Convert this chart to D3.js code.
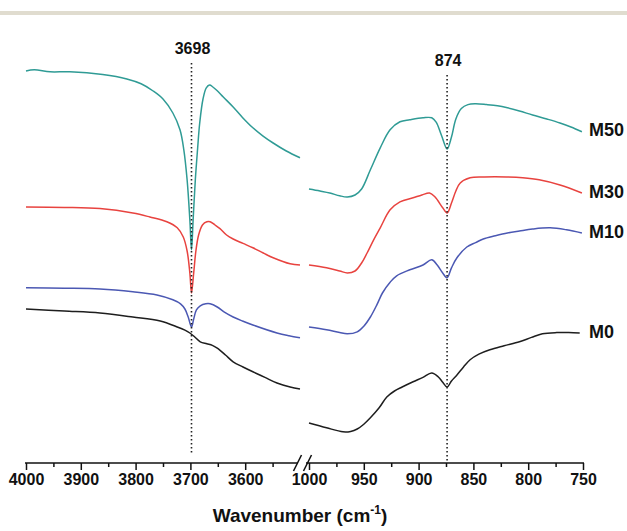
<!DOCTYPE html>
<html>
<head>
<meta charset="utf-8">
<script src="https://cdn.jsdelivr.net/npm/d3@7/dist/d3.min.js"></script>
<style>
  html, body { margin: 0; padding: 0; background: #fff; }
  svg { display: block; font-family: "Liberation Sans", Arial, sans-serif; }
</style>
</head>
<body>
<svg id="chart" width="627" height="531"></svg>
<script>
// FTIR spectra of the M-series samples, shown with a broken wavenumber axis.
// Each series is split into the O–H stretching region (4000–3500 cm-1)
// and the carbonate region (1000–750 cm-1). Values are in arbitrary absorbance units.

const seriesNames = ["M50", "M30", "M10", "M0"];
const seriesColors = ["#2f9b95", "#e8433f", "#4b58b3", "#1e1e1e"];

const m50High = [[4000,98],[3985,98.3],[3956,97.8],[3920,97.8],[3860,97.1],[3816,96],[3790,94.8],[3768,93],[3750,91],[3732,87.5],[3719,83.3],[3712,78.3],[3706,70.8],[3701,60.8],[3698,53.3],[3695,60.8],[3691,70.8],[3687,78.3],[3683,85],[3677,91],[3671,93.8],[3665,94.5],[3659,94],[3652,93.2],[3640,91.5],[3622,89],[3605,86.4],[3586,83.8],[3568,81.8],[3549,80],[3525,78],[3500,76.3]];
const m50Low = [[1000,68.5],[990,68],[981,67.5],[972,66.8],[965,66.5],[958,67],[952,68.5],[944,73.3],[935,78.8],[926,83.3],[917,85.3],[908,85.8],[896,86.3],[888,86.3],[884,85.2],[879,81.8],[874,78.5],[870,81.5],[866,86],[861,88.6],[855,89.6],[848,89.8],[838,89.6],[828,89.3],[819,88.8],[808,88],[796,87],[783,86],[771,85],[761,84],[751,82.8]];

const m30High = [[4000,64],[3930,63.9],[3865,63.6],[3805,62.5],[3774,61.5],[3743,60.3],[3724,58.8],[3713,56.5],[3706,53],[3701,47.5],[3698,42.5],[3694,47.5],[3690,53],[3685,57],[3678,59.5],[3670,60.3],[3664,60.3],[3655,59.5],[3646,58.6],[3634,57],[3622,56],[3604,54.9],[3586,53.8],[3567,52.5],[3549,51.3],[3518,49.8],[3500,49.5]];
const m30Low = [[1000,49.5],[984,48.8],[972,48],[965,47.5],[958,48],[952,50],[947,52.5],[941,55.8],[935,58.8],[926,63.3],[917,65.3],[905,66.3],[897,67],[890,67.5],[885,66.5],[878,63.8],[874,62.5],[870,65],[866,68],[862,70],[853,71.3],[840,71.5],[820,71.5],[805,71.3],[790,70.8],[771,69.5],[751,67.5]];

const m10High = [[4000,43.8],[3930,43.7],[3865,43.5],[3805,42.8],[3761,42],[3732,40.8],[3718,39.8],[3710,38.5],[3704,36.5],[3698,34],[3694,36],[3689,38.3],[3682,39.3],[3672,39.8],[3664,39.8],[3651,39],[3638,37.7],[3622,36.5],[3605,35.5],[3586,34.5],[3542,32.5],[3520,31.8],[3500,31.3]];
const m10Low = [[1000,34],[984,33.3],[972,32.6],[965,32.3],[956,32.8],[950,34.2],[944,36.5],[938,39.6],[933,42.5],[926,45.2],[920,46.8],[908,48.3],[896,49.5],[888,50.8],[883,49.5],[878,47.5],[874,46.3],[870,48.8],[865,51.3],[856,54],[848,55.1],[841,56],[830,56.8],[819,57.5],[808,58],[796,58.5],[780,58.8],[765,58.3],[751,57.5]];

const m0High = [[4000,38.5],[3930,38],[3865,37.5],[3805,36.5],[3755,35.5],[3724,34],[3710,33.2],[3701,32.5],[3692,31.5],[3682,30.3],[3670,29.8],[3660,29.4],[3651,28.7],[3636,27],[3622,25.3],[3604,24],[3586,22.8],[3564,21.4],[3542,20],[3518,19],[3500,18.5]];
const m0Low = [[1000,10],[984,8.8],[969,7.8],[962,7.9],[956,8.5],[950,9.7],[944,11.3],[936,13.8],[929,16.5],[922,18],[915,19],[905,20.3],[896,21.4],[888,22.5],[882,21.5],[878,20.2],[874,19],[870,20.5],[865,22],[859,24],[853,25.8],[845,27.2],[835,28.3],[822,29.3],[808,30.3],[797,31.4],[787,32.3],[774,32.6],[763,32.6],[753,32.5]];

const highRegion = [m50High, m30High, m10High, m0High];
const lowRegion = [m50Low, m30Low, m10Low, m0Low];

const highTicks = [4000, 3900, 3800, 3700, 3600];
const highMinorTicks = [3950, 3850, 3750, 3650, 3550];
const lowTicks = [1000, 950, 900, 850, 800, 750];
const lowMinorTicks = [975, 925, 875, 825, 775];

const markedBands = [
  { label: "3698", wn: 3698, region: "high" },
  { label: "874", wn: 874, region: "low" }
];

// ---- layout ----
const svg = d3.select("#chart");
const W = 627, H = 531;
const axisY = 463;

const xHigh = d3.scaleLinear().domain([4000, 3500]).range([26, 300]);
const xLow = d3.scaleLinear().domain([1000, 750]).range([309, 583]);
const y = d3.scaleLinear().domain([0, 100]).range([463, 63]);

// thin band across the top of the figure
svg.append("rect").attr("x", 0).attr("y", 11).attr("width", W).attr("height", 4).attr("fill", "#e0dccf");

// ---- spectra ----
const curve = d3.curveCatmullRom.alpha(0.5);
const lineHigh = d3.line().x(d => xHigh(d[0])).y(d => y(d[1])).curve(curve);
const lineLow = d3.line().x(d => xLow(d[0])).y(d => y(d[1])).curve(curve);

const traces = svg.append("g").attr("fill", "none").attr("stroke-width", 1.5).attr("stroke-linejoin", "round");
highRegion.forEach((s, i) => {
  traces.append("path").attr("d", lineHigh(s)).attr("stroke", seriesColors[i]);
});
lowRegion.forEach((s, i) => {
  traces.append("path").attr("d", lineLow(s)).attr("stroke", seriesColors[i]);
});

// ---- marked band positions ----
markedBands.forEach(b => {
  const sx = b.region === "high" ? xHigh(b.wn) : xLow(b.wn);
  const top = b.region === "high" ? 63 : 75;
  const bottom = b.region === "high" ? 455 : 461;
  svg.append("line")
    .attr("x1", sx).attr("x2", sx).attr("y1", top).attr("y2", bottom)
    .attr("stroke", "#222").attr("stroke-width", 1.6)
    .attr("stroke-dasharray", "1.6 2.4");
  svg.append("text")
    .attr("x", sx + 1).attr("y", top - 9)
    .attr("text-anchor", "middle")
    .attr("font-size", 16).attr("font-weight", "bold").attr("fill", "#111")
    .text(b.label);
});

// ---- series labels at the right end of each trace ----
lowRegion.forEach((s, i) => {
  const last = s[s.length - 1];
  svg.append("text")
    .attr("x", 589).attr("y", y(last[1]) + 4.5)
    .attr("font-size", 18).attr("font-weight", "bold").attr("fill", "#111")
    .text(seriesNames[i]);
});

// ---- broken x axis ----
const axisG = svg.append("g").attr("transform", `translate(0,${axisY})`);

function drawAxis(scale, major, minor) {
  const gMaj = axisG.append("g").call(
    d3.axisBottom(scale).tickValues(major).tickSize(7).tickSizeOuter(0).tickPadding(4).tickFormat(d3.format("d"))
  );
  const gMin = axisG.append("g").call(
    d3.axisBottom(scale).tickValues(minor).tickSize(4).tickSizeOuter(0).tickFormat("")
  );
  [gMaj, gMin].forEach(g => {
    g.select(".domain").remove();
    g.selectAll("line").attr("stroke", "#111").attr("stroke-width", 1.5);
  });
  gMaj.selectAll("text")
    .attr("font-family", "Liberation Sans, Arial, sans-serif")
    .attr("font-size", 16).attr("font-weight", "bold").attr("fill", "#111");
}
drawAxis(xHigh, highTicks, highMinorTicks);
drawAxis(xLow, lowTicks, lowMinorTicks);

// axis baseline, interrupted at the break
axisG.append("line").attr("x1", 25).attr("x2", 298).attr("y1", 0).attr("y2", 0).attr("stroke", "#111").attr("stroke-width", 1.5);
axisG.append("line").attr("x1", 306).attr("x2", 584).attr("y1", 0).attr("y2", 0).attr("stroke", "#111").attr("stroke-width", 1.5);

// break marks
[297.5, 307.5].forEach(cx => {
  axisG.append("line")
    .attr("x1", cx - 4).attr("y1", 8).attr("x2", cx + 4).attr("y2", -8)
    .attr("stroke", "#111").attr("stroke-width", 1.5);
});

// axis title
const title = svg.append("text")
  .attr("x", 300).attr("y", 522)
  .attr("text-anchor", "middle")
  .attr("font-size", 19).attr("font-weight", "bold").attr("fill", "#111");
title.append("tspan").text("Wavenumber (cm");
title.append("tspan").attr("font-size", 12).attr("dy", -8).text("-1");
title.append("tspan").attr("dy", 8).text(")");
</script>
</body>
</html>
